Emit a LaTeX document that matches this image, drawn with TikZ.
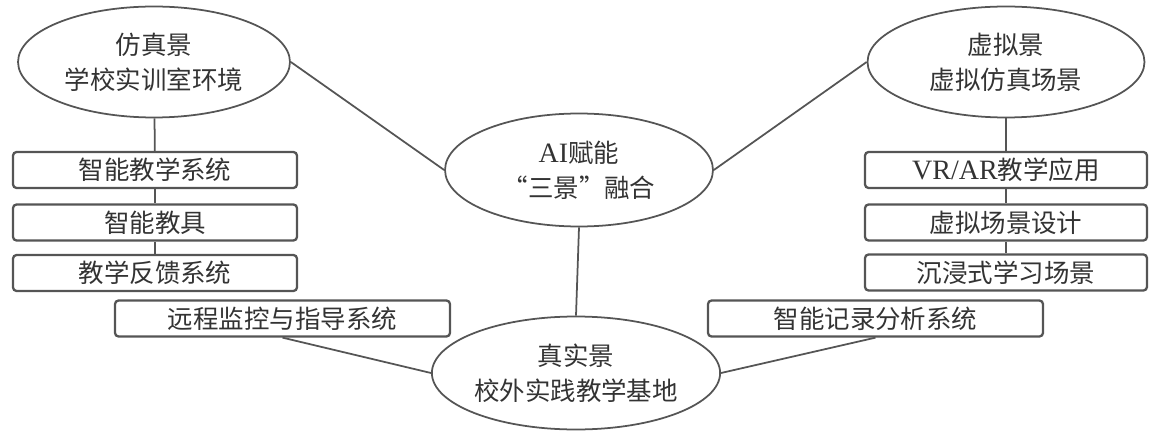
\documentclass[tikz,border=0pt]{standalone}
\usepackage{fontspec}
\setmainfont{Noto Sans CJK SC}
\newfontfamily\latinserif[Scale=1.1]{Liberation Serif}
\usetikzlibrary{shapes.geometric, positioning}
\definecolor{linegray}{HTML}{555555}
\tikzset{
  % Scene ellipses
  sceneellipse/.style={ellipse, draw=linegray, line width=1pt, inner sep=0pt,
    align=center, text=black!80, font=\fontsize{14.5}{20}\selectfont},
  % Item boxes
  itembox/.style={draw=linegray, line width=1.3pt, rounded corners=2pt,
    minimum height=0.72cm, inner sep=0pt, text=black!80, font=\fontsize{14.5}{17}\selectfont},
  % Links
  link/.style={draw=linegray, line width=1pt},
}
\begin{document}
\begin{tikzpicture}[x=0.02cm, y=-0.02cm]
  \useasboundingbox (0,0) rectangle (1155,432);

  % Scene nodes
  \node[sceneellipse, minimum width=5.44cm, minimum height=2.22cm] (sim) at (154,62) {仿真景\\学校实训室环境};
  \node[sceneellipse, minimum width=5.54cm, minimum height=2.22cm] (virt) at (1006,62) {虚拟景\\虚拟仿真场景};
  \node[sceneellipse, minimum width=5.36cm, minimum height=2.26cm] (core) at (579,170) {{\latinserif AI}赋能\\“三景”融合};
  \node[sceneellipse, minimum width=5.5cm, minimum height=2.26cm] (real) at (576,373) {真实景\\校外实践教学基地};

  % Left items
  \node[itembox, minimum width=5.68cm] (simA) at (155,170) {智能教学系统};
  \node[itembox, minimum width=5.68cm] (simB) at (155,222.5) {智能教具};
  \node[itembox, minimum width=5.68cm] (simC) at (155,273) {教学反馈系统};
  \node[itembox, minimum width=6.7cm] (remote) at (282.5,318.5) {远程监控与指导系统};

  % Right items
  \node[itembox, minimum width=5.64cm] (virtA) at (1006,170) {{\latinserif VR/AR}教学应用};
  \node[itembox, minimum width=5.64cm] (virtB) at (1006,222.5) {虚拟场景设计};
  \node[itembox, minimum width=5.64cm] (virtC) at (1006,272.5) {沉浸式学习场景};
  \node[itembox, minimum width=6.7cm] (record) at (875.5,318.5) {智能记录分析系统};

  \draw[link] (sim) -- (simA);
  \draw[link] (simA) -- (simB);
  \draw[link] (simB) -- (simC);
  \draw[link] (virt) -- (virtA);
  \draw[link] (virtA) -- (virtB);
  \draw[link] (virtB) -- (virtC);

  \draw[link] (sim.east) -- (core.west);
  \draw[link] (core.east) -- (virt.west);
  \draw[link] (core.south) -- (real.north);
  \draw[link] (remote.south) -- (real.west);
  \draw[link] (record.south) -- (real.east);
\end{tikzpicture}
\end{document}
